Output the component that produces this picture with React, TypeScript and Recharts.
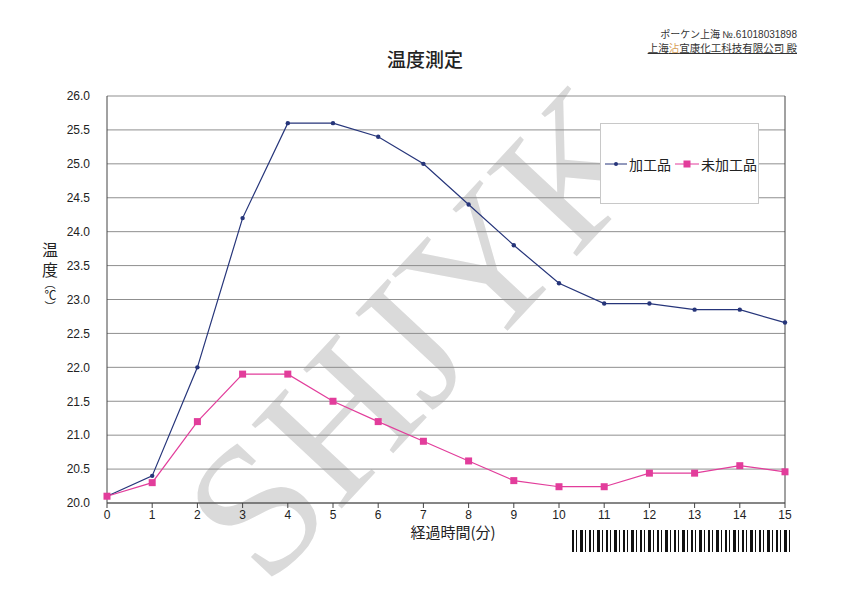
import { LineChart, Line, XAxis, YAxis, CartesianGrid, Legend, ReferenceLine } from 'recharts'

const MINUTES = [0, 1, 2, 3, 4, 5, 6, 7, 8, 9, 10, 11, 12, 13, 14, 15]
const PROCESSED = [20.1, 20.4, 22.0, 24.2, 25.6, 25.6, 25.4, 25.0, 24.4, 23.8, 23.24, 22.94, 22.94, 22.85, 22.85, 22.66]
const UNPROCESSED = [20.1, 20.3, 21.2, 21.9, 21.9, 21.5, 21.2, 20.91, 20.62, 20.33, 20.24, 20.24, 20.44, 20.44, 20.55, 20.46]
const Y_TICKS = [20, 20.5, 21, 21.5, 22, 22.5, 23, 23.5, 24, 24.5, 25, 25.5, 26]

const SERIES_NAMES = ['加工品', '未加工品']
const BLUE = '#26357a'
const PINK = '#e23d9b'
const CJK = '"Noto Sans CJK JP", "Noto Sans", sans-serif'
const LATIN = '"Liberation Sans", Arial, sans-serif'

const chartData = MINUTES.map((m, i) => ({ m, processed: PROCESSED[i], unprocessed: UNPROCESSED[i] }))

function SquareDot(props: { cx?: number; cy?: number }) {
  const { cx, cy } = props
  if (cx == null || cy == null) return null
  return <rect x={cx - 3.5} y={cy - 3.5} width={7} height={7} fill={PINK} />
}

function SmallDot(props: { cx?: number; cy?: number }) {
  const { cx, cy } = props
  if (cx == null || cy == null) return null
  return <circle cx={cx} cy={cy} r={2.2} fill={BLUE} />
}

function LegendBox() {
  return (
    <div style={{ display: 'flex', alignItems: 'center', height: '100%', paddingLeft: 4, fontFamily: CJK, fontSize: 14, color: '#222' }}>
      <svg width={24} height={10}>
        <line x1={0} y1={5} x2={22} y2={5} stroke={BLUE} strokeWidth={1} />
        <circle cx={11} cy={5} r={2} fill={BLUE} />
      </svg>
      <span style={{ marginRight: 4 }}>{SERIES_NAMES[0]}</span>
      <svg width={26} height={10}>
        <line x1={0} y1={5} x2={24} y2={5} stroke={PINK} strokeWidth={1} />
        <rect x={8.5} y={1.5} width={7} height={7} fill={PINK} />
      </svg>
      <span>{SERIES_NAMES[1]}</span>
    </div>
  )
}

export default function App() {
  return (
    <div style={{ position: 'absolute', left: 0, top: 0, width: 850, height: 595, background: '#fff', overflow: 'hidden' }}>
      {/* watermark */}
      <div
        style={{
          position: 'absolute', left: 420, top: 332, transform: 'translate(-50%, -50%) rotate(-47deg)',
          fontFamily: '"Liberation Serif", "DejaVu Serif", serif', fontSize: 188, color: '#dadada', whiteSpace: 'nowrap', lineHeight: 1,
        }}
      >
        SHJYK
      </div>

      <div style={{ position: 'absolute', right: 53, top: 27, fontFamily: CJK, fontSize: 10, color: '#333', textAlign: 'right', lineHeight: '13px' }}>
        <div>ポーケン上海 <span style={{ fontFamily: LATIN }}>№.61018031898</span></div>
        <div style={{ textDecoration: 'underline', fontSize: 10.5 }}>
          上海<span style={{ color: '#d9a15a' }}>沾</span>宜康化工科技有限公司 殿
        </div>
      </div>

      <div style={{ position: 'absolute', left: 0, width: 850, top: 45, textAlign: 'center', fontFamily: CJK, fontSize: 19, fontWeight: 500, color: '#222' }}>
        温度測定
      </div>

      {/* vertical y-axis title */}
      <div
        style={{
          position: 'absolute', left: 42, top: 242, writingMode: 'vertical-rl', fontFamily: CJK, fontSize: 16,
          lineHeight: '16px', color: '#222', whiteSpace: 'nowrap',
        }}
      >
        <span style={{ letterSpacing: 4 }}>温</span>度<span style={{ fontSize: 11 }}>（</span><span style={{ fontSize: 12 }}>℃</span><span style={{ fontSize: 11 }}>）</span>
      </div>

      <div style={{ position: 'absolute', left: 0, top: 0 }}>
        <LineChart width={850} height={595} data={chartData} margin={{ top: 96, right: 65, bottom: 0, left: 0 }}>
          <CartesianGrid vertical={false} stroke="#8f8f8f" strokeWidth={1} />
          <XAxis
            dataKey="m"
            type="number"
            domain={[0, 15]}
            ticks={MINUTES}
            height={92}
            tickSize={5}
            tick={{ fontSize: 12, fill: '#222', fontFamily: LATIN }}
            stroke="#444"
            label={{ value: '経過時間(分)', position: 'insideTop', offset: 24, dx: 7, fontSize: 15, fill: '#222', fontFamily: CJK }}
          />
          <YAxis
            domain={[20, 26]}
            ticks={Y_TICKS}
            width={107}
            tickLine={false}
            tickMargin={11}
            tickFormatter={(v: number) => v.toFixed(1)}
            tick={{ fontSize: 12, fill: '#222', fontFamily: LATIN }}
            stroke="#444"
          />
          <ReferenceLine x={15} stroke="#444" />
          <Legend
            layout="horizontal"
            verticalAlign="middle"
            align="center"
            content={<LegendBox />}
            wrapperStyle={{ left: 600, top: 123, width: 159, height: 81, border: '1px solid #c8c8c8', background: '#fff', boxSizing: 'border-box' }}
          />
          <Line
            dataKey="processed"
            name={SERIES_NAMES[0]}
            stroke={BLUE}
            strokeWidth={1.2}
            dot={<SmallDot />}
            isAnimationActive={false}
          />
          <Line
            dataKey="unprocessed"
            name={SERIES_NAMES[1]}
            stroke={PINK}
            strokeWidth={1.2}
            dot={<SquareDot />}
            isAnimationActive={false}
          />
        </LineChart>
      </div>

      <div
        style={{
          position: 'absolute', left: 572, top: 530, width: 218, height: 22,
          background: 'repeating-linear-gradient(90deg, #111 0 2px, #fff 2px 4px, #111 4px 5px, #fff 5px 8px, #111 8px 11px, #fff 11px 13px, #111 13px 14px, #fff 14px 17px)',
        }}
      />
    </div>
  )
}
